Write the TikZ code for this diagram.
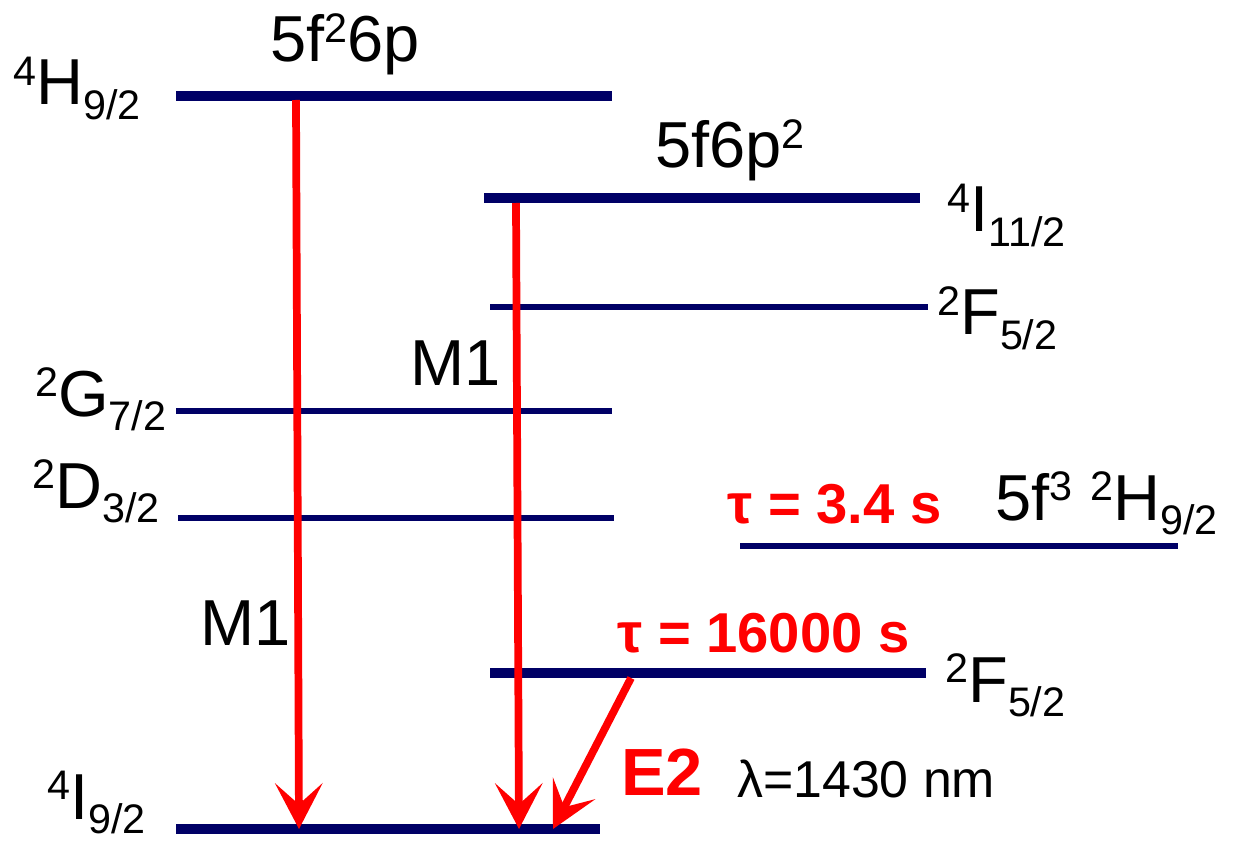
\documentclass[tikz,border=0pt]{standalone}
\usepackage{fontspec}
\setmainfont{Liberation Sans}
\usetikzlibrary{arrows.meta}
\definecolor{levelblue}{RGB}{0,0,102}
\definecolor{transred}{RGB}{255,0,0}
\newcommand{\supnum}[1]{\raisebox{11pt}{\fontsize{23.5}{24}\selectfont #1}}
\newcommand{\term}[3]{\supnum{#1}#2\raisebox{-8.5pt}{\fontsize{23.5}{24}\selectfont #3}}
\begin{document}
\begin{tikzpicture}[x=0.02cm, y=-0.02cm,
  thicklevel/.style={draw=levelblue, line width=5.7pt},
  thinlevel/.style={draw=levelblue, line width=3.4pt},
  termtext/.style={anchor=base west, inner sep=0pt, font=\fontsize{37}{40}\selectfont},
  ratetext/.style={anchor=base west, inner sep=0pt, text=transred, font=\fontsize{32}{36}\selectfont\bfseries},
  trans/.style={draw=transred, line width=4.4pt, -{Stealth[length=26pt, width=27pt, inset=12pt]}}
]
\useasboundingbox (0,0) rectangle (1244,841);
\draw[thicklevel] (176,96) -- (612,96);
\draw[thicklevel] (484,198) -- (920,198);
\draw[thinlevel] (490,307) -- (928,307);
\draw[thinlevel] (176,411) -- (612,411);
\draw[thinlevel] (178,518) -- (614,518);
\draw[thinlevel] (740,546) -- (1178,546);
\draw[thicklevel] (490,673) -- (926,673);
\draw[thicklevel] (176,829) -- (600,829);
\node[termtext, anchor=base] (conf1) at (345,62) {5f\supnum{2}6p};
\node[termtext, anchor=base] (conf2) at (730,168) {5f6p\supnum{2}};
\node[termtext] (h92) at (13,105) {\term{4}{H}{9/2}};
\node[termtext] (i112) at (947,232) {\term{4}{I}{11/2}};
\node[termtext] (f52a) at (937,335) {\term{2}{F}{5/2}};
\node[termtext] (g72) at (35,416) {\term{2}{G}{7/2}};
\node[termtext] (d32) at (32,508) {\term{2}{D}{3/2}};
\node[termtext] (h92b) at (995,520) {5f\supnum{3} \term{2}{H}{9/2}};
\node[termtext] (f52b) at (945,702) {\term{2}{F}{5/2}};
\node[termtext] (i92) at (47,819) {\term{4}{I}{9/2}};
\node[termtext] (m1a) at (410,385) {M1};
\node[termtext] (m1b) at (200,645) {M1};
\node[ratetext] (tau1) at (727,523) {τ = 3.4 s};
\node[ratetext] (tau2) at (617,652) {τ = 16000 s};
\node[ratetext, font=\fontsize{38}{40}\selectfont\bfseries] (e2) at (621,795) {E2};
\node[termtext, font=\fontsize{29.5}{32}\selectfont] (lambda) at (737,797) {λ=1430 nm};
\coordinate (m1atop) at (296,100);
\coordinate (m1abot) at (299,829);
\coordinate (m1btop) at (516,203);
\coordinate (m1bbot) at (519,829);
\coordinate (e2top) at (631,678);
\coordinate (e2bot) at (553,829);
\draw[trans] (m1atop) -- (m1abot);
\draw[trans] (m1btop) -- (m1bbot);
\draw[trans] (e2top) -- (e2bot);
\end{tikzpicture}
\end{document}
